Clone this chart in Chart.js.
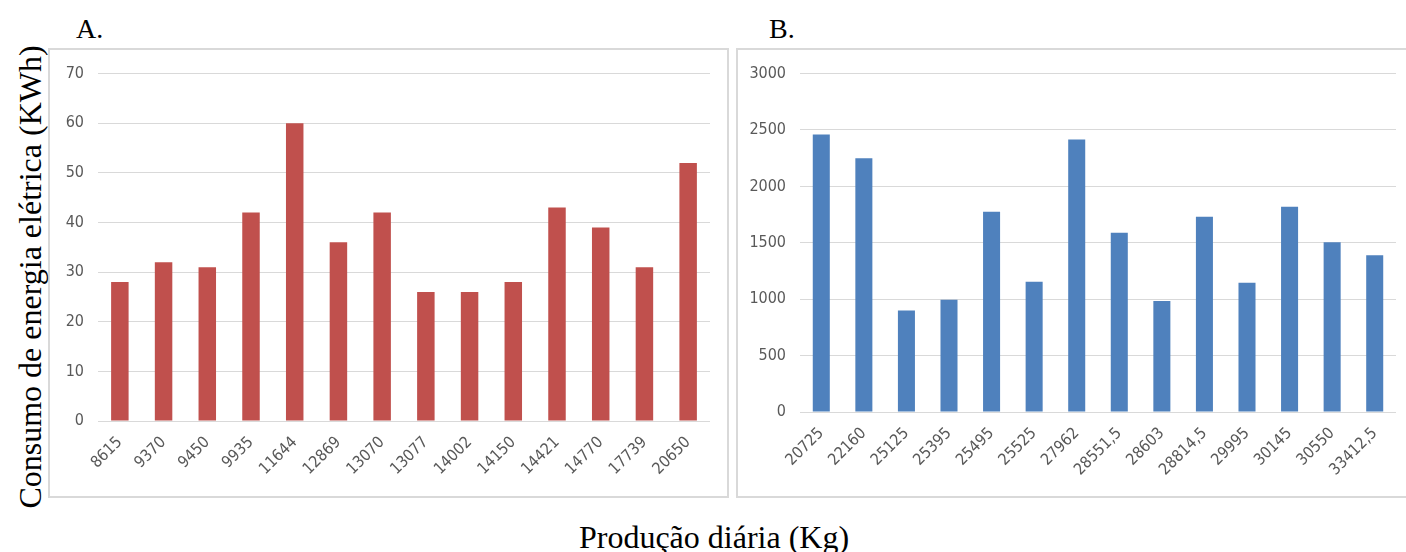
<!DOCTYPE html>
<html><head><meta charset="utf-8">
<script src="https://cdn.jsdelivr.net/npm/chart.js@4"></script>
<style>
html,body{margin:0;padding:0;background:#fff;width:1406px;height:552px;overflow:hidden;position:relative;font-family:'Liberation Serif','Times New Roman',serif;}
.box{position:absolute;border:2px solid #d9d9d9;box-sizing:border-box;}
.lbl{position:absolute;color:#000;white-space:nowrap;}
canvas{display:block;}
</style></head><body>
<div class="box" style="left:48px;top:48px;width:681px;height:450px;"><div style="position:absolute;left:0;top:0;width:677px;height:446px;"><canvas id="cA"></canvas></div></div>
<div class="box" style="left:736px;top:48px;width:680px;height:450px;"><div style="position:absolute;left:0;top:0;width:668px;height:446px;"><canvas id="cB"></canvas></div></div>
<div class="lbl" style="left:76px;top:13px;font-size:28px;">A.</div>
<div class="lbl" style="left:769px;top:13px;font-size:28px;">B.</div>
<div class="lbl" style="left:30px;top:277px;font-size:32px;transform:translate(-50%,-50%) rotate(-90deg);">Consumo de energia elétrica (KWh)</div>
<div class="lbl" style="left:714px;top:537px;font-size:32px;transform:translate(-50%,-50%);">Produção diária (Kg)</div>
<script>
const catsA = ['8615','9370','9450','9935','11644','12869','13070','13077','14002','14150','14421','14770','17739','20650'];
const valsA = [28,32,31,42,60,36,42,26,26,28,43,39,31,52];
const catsB = ['20725','22160','25125','25395','25495','25525','27962','28551,5','28603','28814,5','29995','30145','30550','33412,5'];
const valsB = [2460,2250,900,995,1775,1155,2415,1590,985,1730,1145,1820,1505,1390];
const ticksA = {min:0,max:70,step:10};
const ticksB = {min:0,max:3000,step:500};

const tickFont = {family:"'Liberation Sans Narrow','DejaVu Sans Condensed',sans-serif", size:16};
function make(id, cats, vals, color, tk, yW, xH, pad){
  new Chart(document.getElementById(id), {
    type:'bar',
    data:{labels:cats, datasets:[{data:vals, backgroundColor:color, borderWidth:0, barPercentage:0.4, categoryPercentage:1}]},
    options:{
      responsive:true, maintainAspectRatio:false, animation:false,
      layout:{padding:pad},
      plugins:{legend:{display:false}, tooltip:{enabled:false}},
      scales:{
        x:{grid:{display:false}, border:{display:false},
           ticks:{color:'#595959', font:tickFont, maxRotation:45, minRotation:45, padding:4, autoSkip:false},
           afterFit:s=>{s.height=xH;}},
        y:{min:tk.min, max:tk.max, border:{display:false},
           grid:{color:'#d9d9d9', lineWidth:1, drawTicks:false},
           ticks:{stepSize:tk.step, color:'#595959', font:tickFont, padding:14, callback:v=>String(v)},
           afterFit:s=>{s.width=yW;}}
      }
    }
  });
}
make('cA', catsA, valsA, '#C0504D', ticksA, 48, 75, {top:22, right:17, left:0, bottom:0});
make('cB', catsB, valsB, '#4F81BD', ticksB, 62, 84, {top:21, right:10, left:0, bottom:0});
</script>
</body></html>
